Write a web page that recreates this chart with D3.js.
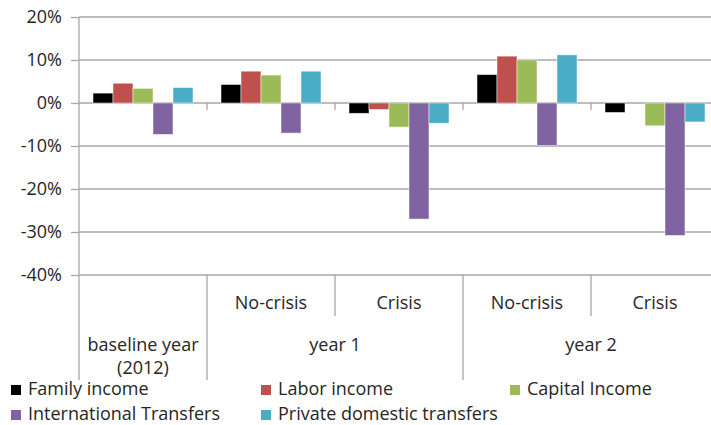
<!DOCTYPE html>
<html><head><meta charset="utf-8">
<script src="https://cdn.jsdelivr.net/npm/d3@7"></script>
<style>
html,body{margin:0;padding:0;background:#fff;}
svg text{font-family:"Open Sans",sans-serif;fill:#262626;}
</style></head>
<body>
<svg id="chart" width="711" height="425"></svg>
<script>
const categories = ["baseline", "y1-nocrisis", "y1-crisis", "y2-nocrisis", "y2-crisis"];
const subLabels = ["", "No-crisis", "Crisis", "No-crisis", "Crisis"];
const groupLabels = [["baseline year", "(2012)"], ["year 1"], ["year 2"]];
const groupSpans = [1, 2, 2];
const seriesNames = ["Family income", "Labor income", "Capital Income", "International Transfers", "Private domestic transfers"];
const seriesColors = ["#000000", "#C0504D", "#9BBB59", "#8064A2", "#4BACC6"];
const familyIncome = [2.3, 4.3, -2.4, 6.6, -2.2];
const laborIncome = [4.6, 7.4, -1.5, 10.9, 0];
const capitalIncome = [3.4, 6.5, -5.6, 10.0, -5.3];
const internationalTransfers = [-7.3, -7.0, -27.0, -9.9, -30.8];
const privateDomestic = [3.6, 7.4, -4.7, 11.2, -4.4];
const yTicks = [20, 10, 0, -10, -20, -30, -40];

const seriesValues = [familyIncome, laborIncome, capitalIncome, internationalTransfers, privateDomestic];

const svg = d3.select("#chart");
const pLeft = 79, pRight = 719, pTop = 17, pBottom = 275;
const y = d3.scaleLinear().domain([-40, 20]).range([pBottom, pTop]);
const x0 = d3.scaleBand().domain(categories).range([pLeft, pRight]).padding(0);
const x1 = d3.scaleBand().domain(seriesNames).range([0, x0.bandwidth()]).paddingInner(0).paddingOuter(0.7);
const grid = "#A6A6A6";

// gridlines + y ticks
const yAxis = d3.axisLeft(y).tickValues(yTicks).tickSize(8).tickFormat(d => d + "%");
const gy = svg.append("g").attr("transform", `translate(${pLeft},0)`).call(yAxis);
gy.select(".domain").remove();
gy.selectAll(".tick line").attr("stroke", grid).attr("stroke-width", 1.3);
gy.selectAll(".tick text").attr("font-size", 18).attr("x", -17).attr("fill", "#262626")
  .style("font-family", '"Open Sans",sans-serif');
svg.append("g").selectAll("line").data(yTicks).join("line")
  .attr("x1", pLeft).attr("x2", pRight)
  .attr("y1", d => y(d)).attr("y2", d => y(d))
  .attr("stroke", grid).attr("stroke-width", 1.3);

// y axis line extended into category area
svg.append("line").attr("x1", pLeft).attr("x2", pLeft).attr("y1", pTop).attr("y2", 380)
  .attr("stroke", grid).attr("stroke-width", 1.3);

// bars
const rows = [];
categories.forEach((c, i) => seriesNames.forEach((s, j) => rows.push({c, s, v: seriesValues[j][i], color: seriesColors[j]})));
svg.append("g").selectAll("rect").data(rows).join("rect")
  .attr("x", d => x0(d.c) + x1(d.s))
  .attr("width", x1.bandwidth())
  .attr("y", d => y(Math.max(0, d.v)))
  .attr("height", d => Math.abs(y(d.v) - y(0)))
  .attr("fill", d => d.color)
  .attr("stroke", "rgba(255,255,255,0.6)").attr("stroke-width", 0.8);

// zero-line ticks at category boundaries
const boundaries = categories.slice(1).map(c => x0(c)).concat([pRight]);
svg.append("g").selectAll("line").data(boundaries).join("line")
  .attr("x1", d => d).attr("x2", d => d).attr("y1", y(0)).attr("y2", y(0) + 7)
  .attr("stroke", grid).attr("stroke-width", 1.3);

// category separators
categories.forEach((c, i) => {
  if (i === 0) return;
  const isGroupStart = (i === 1 || i === 3);
  svg.append("line").attr("x1", x0(c)).attr("x2", x0(c))
    .attr("y1", pBottom).attr("y2", isGroupStart ? 380 : 316)
    .attr("stroke", grid).attr("stroke-width", 1.3);
});

// sub labels
svg.append("g").selectAll("text").data(categories).join("text")
  .attr("x", d => x0(d) + x0.bandwidth() / 2).attr("y", 309)
  .attr("text-anchor", "middle").attr("font-size", 18)
  .text((d, i) => subLabels[i]);

// group labels
let idx = 0;
groupLabels.forEach((lines, g) => {
  const start = x0(categories[idx]);
  const end = x0(categories[idx + groupSpans[g] - 1]) + x0.bandwidth();
  const cx = (start + end) / 2;
  lines.forEach((t, k) => {
    svg.append("text").attr("x", cx).attr("y", 351 + k * 23)
      .attr("text-anchor", "middle").attr("font-size", 18).text(t);
  });
  idx += groupSpans[g];
});

// legend
const legendPos = [[11, 385], [261, 385], [510, 385], [11, 410], [261, 410]];
const lg = svg.append("g").selectAll("g").data(seriesNames).join("g")
  .attr("transform", (d, i) => `translate(${legendPos[i][0]},${legendPos[i][1]})`);
lg.append("rect").attr("width", 10).attr("height", 10).attr("fill", (d, i) => seriesColors[i]);
lg.append("text").attr("x", 17).attr("y", 10).attr("font-size", 18).text(d => d);
</script>
</body></html>
